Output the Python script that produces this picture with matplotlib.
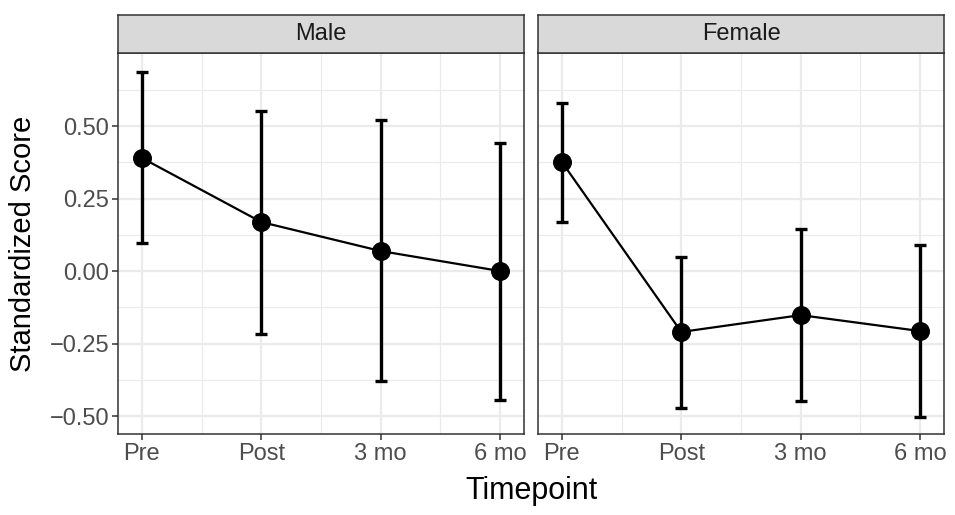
import matplotlib.pyplot as plt
import numpy as np

plt.rcParams['font.family'] = ['Liberation Sans', 'DejaVu Sans']

timepoints = ['Pre', 'Post', '3 mo', '6 mo']
panels = ['Male', 'Female']

# mean and interval ends
male_mean = [0.39, 0.169, 0.069, 0.0]
male_lo = [0.097, -0.217, -0.379, -0.445]
male_hi = [0.686, 0.552, 0.521, 0.441]
female_mean = [0.376, -0.21, -0.152, -0.207]
female_lo = [0.169, -0.472, -0.448, -0.503]
female_hi = [0.579, 0.048, 0.145, 0.09]

data = {
    'Male': (male_mean, male_lo, male_hi),
    'Female': (female_mean, female_lo, female_hi),
}

fig = plt.figure(figsize=(9.55, 5.15), dpi=100)
W, H = 955, 515
panel_x = [118, 538]
panel_w = 406
top, bottom = 53, 434
strip_h = 38

x = np.arange(len(timepoints))
for i, name in enumerate(panels):
    ax = fig.add_axes([panel_x[i] / W, 1 - bottom / H, panel_w / W, (bottom - top) / H])
    mean, lo, hi = data[name]
    mean = np.array(mean)
    err = [mean - np.array(lo), np.array(hi) - mean]
    ax.plot(x, mean, color='black', lw=1.6, zorder=3)
    ax.errorbar(x, mean, yerr=err, fmt='none', ecolor='black', elinewidth=2.4,
                capsize=4, capthick=2.4, zorder=3)
    ax.scatter(x, mean, s=160, color='black', zorder=4)
    ax.set_xlim(-0.2, 3.2)
    ax.set_ylim(-0.562, 0.752)
    ax.set_xticks(x)
    ax.set_xticklabels(timepoints)
    ax.set_xticks([0.5, 1.5, 2.5], minor=True)
    ax.set_yticks([-0.5, -0.25, 0, 0.25, 0.5])
    ax.set_yticks([-0.375, -0.125, 0.125, 0.375, 0.625], minor=True)
    ax.grid(which='major', color='#EBEBEB', lw=1.6, zorder=0)
    ax.grid(which='minor', color='#EBEBEB', lw=0.8, zorder=0)
    ax.set_axisbelow(True)
    for s in ax.spines.values():
        s.set_color('#333333')
        s.set_linewidth(1.1)
    ax.tick_params(which='major', length=4.5, width=1.1, color='#333333',
                   labelsize=17, labelcolor='#4D4D4D', pad=2)
    ax.tick_params(which='minor', length=0)
    if i == 0:
        ax.set_yticklabels(['\u22120.50', '\u22120.25', '0.00', '0.25', '0.50'])
    else:
        ax.tick_params(axis='y', labelleft=False, length=0)

    # facet strip
    sax = fig.add_axes([panel_x[i] / W, 1 - top / H, panel_w / W, strip_h / H])
    sax.set_facecolor('#D9D9D9')
    sax.set_xticks([])
    sax.set_yticks([])
    for s in sax.spines.values():
        s.set_color('#333333')
        s.set_linewidth(1.1)
    sax.text(0.5, 0.5, name, ha='center', va='center', fontsize=17,
             color='#1A1A1A', transform=sax.transAxes)

fig.text((118 + 944) / 2 / W, 1 - 491 / H, 'Timepoint', ha='center', va='center', fontsize=22)
fig.text(23 / W, 1 - 244 / H, 'Standardized Score', ha='center', va='center',
         rotation=90, fontsize=21)

fig.savefig('out.png', dpi=100)
